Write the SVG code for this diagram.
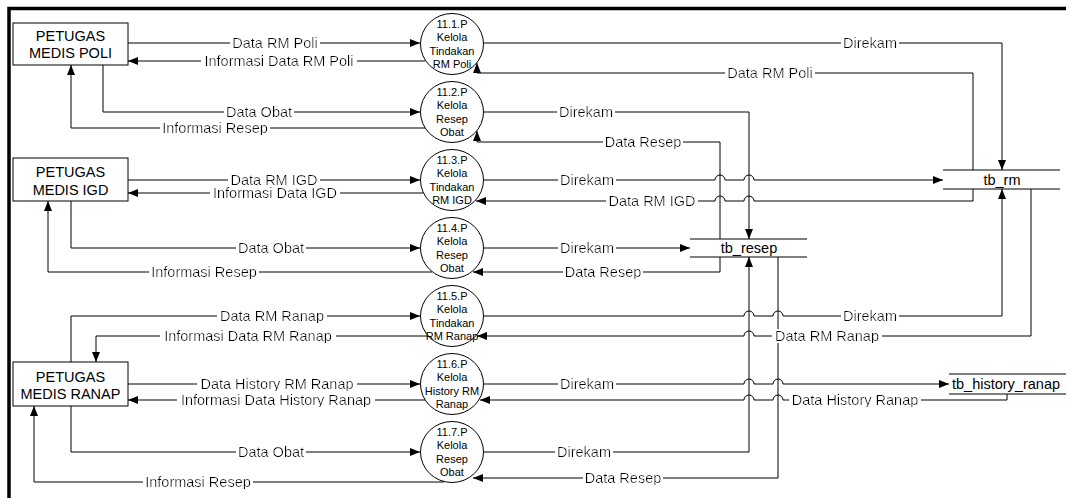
<svg xmlns="http://www.w3.org/2000/svg" width="1066" height="498" viewBox="0 0 1066 498">
<style>
text{font-family:"Liberation Sans",Arial,sans-serif;fill:#000}
.ent rect{fill:#fff;stroke:#000;stroke-width:1}
.ent text{font-size:14.5px;text-anchor:middle}
.proc ellipse{fill:#fff;stroke:#000;stroke-width:1}
.proc text{font-size:11px;text-anchor:middle}
.store line{stroke:#000;stroke-width:1}
.store text{font-size:14.5px;text-anchor:middle}
.flow path{fill:none;stroke:#000;stroke-width:1}
.flow path.a{marker-end:url(#ah)}
.lbl{font-size:14.5px;text-anchor:middle;filter:url(#bg)}
</style>
<defs>
<marker id="ah" markerUnits="userSpaceOnUse" viewBox="0 0 10 8" markerWidth="10" markerHeight="8" refX="10" refY="4" orient="auto">
<path d="M0,0 L10,4 L0,8 z" fill="#000"/>
</marker>
<filter id="bg" x="-0.02" y="0.12" width="1.04" height="0.76">
<feFlood flood-color="#fff" result="f"/>
<feComposite in="SourceGraphic" in2="f" operator="over"/>
</filter>
</defs>
<rect width="1066" height="498" fill="#fff"/>
<path d="M9,498 V8.5 H1066" fill="none" stroke="#000" stroke-width="3.5"/>

<g id="flows" class="flow">
<path class="a" d="M128,43 H420"/>
<path class="a" d="M425,61 H128"/>
<path class="a" d="M103,65 V112 H420"/>
<path class="a" d="M425,128 H71 V65"/>
<path class="a" d="M128,180 H420"/>
<path class="a" d="M423,193 H128"/>
<path class="a" d="M71,201 V248 H420"/>
<path class="a" d="M432,272 H48 V201"/>
<path class="a" d="M71,362 V316 H420"/>
<path class="a" d="M429,336 H96 V362"/>
<path class="a" d="M128,384 H420"/>
<path class="a" d="M425,400 H128"/>
<path class="a" d="M71,406 V452 H420"/>
<path class="a" d="M444,482 H34 V406"/>

<path class="a" d="M484,43 H1002 V170"/>
<path class="a" d="M973,170 V73 H477 V63"/>
<path class="a" d="M484,112 H749 V239"/>
<path class="a" d="M720,239 V142 H477 V131"/>
<path class="a" d="M484,180 H715 a5,5 0 0 1 10,0 H744 a5,5 0 0 1 10,0 H943"/>
<path class="a" d="M973,189 V201 H754 a5,5 0 0 0 -10,0 H725 a5,5 0 0 0 -10,0 H476"/>
<path class="a" d="M484,248 H690"/>
<path class="a" d="M720,257 V272 H473"/>
<path class="a" d="M484,316 H744 a5,5 0 0 1 10,0 H773 a5,5 0 0 1 10,0 H1002 V189"/>
<path class="a" d="M1031,189 V336 H783 a5,5 0 0 0 -10,0 H754 a5,5 0 0 0 -10,0 H477"/>
<path class="a" d="M484,384 H744 a5,5 0 0 1 10,0 H773 a5,5 0 0 1 10,0 H949"/>
<path class="a" d="M1007,394 V400 H783 a5,5 0 0 0 -10,0 H754 a5,5 0 0 0 -10,0 H480"/>
<path class="a" d="M484,452 H749 V257"/>
<path class="a" d="M778,257 V478 H473"/>

<text class="lbl" x="275" y="48">Data RM Poli</text>
<text class="lbl" x="279" y="66">Informasi Data RM Poli</text>
<text class="lbl" x="259" y="117">Data Obat</text>
<text class="lbl" x="215" y="133">Informasi Resep</text>
<text class="lbl" x="274" y="185">Data RM IGD</text>
<text class="lbl" x="275" y="198">Informasi Data IGD</text>
<text class="lbl" x="271" y="253">Data Obat</text>
<text class="lbl" x="204" y="277">Informasi Resep</text>
<text class="lbl" x="272" y="321">Data RM Ranap</text>
<text class="lbl" x="248" y="341">Informasi Data RM Ranap</text>
<text class="lbl" x="277" y="389">Data History RM Ranap</text>
<text class="lbl" x="276" y="405">Informasi Data History Ranap</text>
<text class="lbl" x="271" y="457">Data Obat</text>
<text class="lbl" x="198" y="487">Informasi Resep</text>

<text class="lbl" x="870" y="48">Direkam</text>
<text class="lbl" x="770" y="78">Data RM Poli</text>
<text class="lbl" x="586" y="117">Direkam</text>
<text class="lbl" x="643" y="147">Data Resep</text>
<text class="lbl" x="587" y="185">Direkam</text>
<text class="lbl" x="652" y="206">Data RM IGD</text>
<text class="lbl" x="587" y="253">Direkam</text>
<text class="lbl" x="603" y="277">Data Resep</text>
<text class="lbl" x="870" y="321">Direkam</text>
<text class="lbl" x="827" y="341">Data RM Ranap</text>
<text class="lbl" x="587" y="389">Direkam</text>
<text class="lbl" x="855" y="405">Data History Ranap</text>
<text class="lbl" x="584" y="457">Direkam</text>
<text class="lbl" x="623" y="483">Data Resep</text>
</g>

<g id="ent-poli" class="ent">
<rect x="13" y="23" width="115" height="42"/>
<text x="70.5" y="40.5">PETUGAS</text>
<text x="70.5" y="57.5">MEDIS POLI</text>
</g>
<g id="ent-igd" class="ent">
<rect x="13" y="158" width="115" height="43"/>
<text x="70.5" y="176.5">PETUGAS</text>
<text x="70.5" y="195">MEDIS IGD</text>
</g>
<g id="ent-ranap" class="ent">
<rect x="13" y="362" width="115" height="44"/>
<text x="70.5" y="381.5">PETUGAS</text>
<text x="70.5" y="399">MEDIS RANAP</text>
</g>

<g id="p11-1" class="proc">
<ellipse cx="452" cy="44" rx="31.5" ry="30.5"/>
<text x="452" y="27.5">11.1.P</text><text x="452" y="41">Kelola</text><text x="452" y="54.5">Tindakan</text><text x="452" y="68">RM Poli</text>
</g>
<g id="p11-2" class="proc">
<ellipse cx="452" cy="112" rx="31.5" ry="30.5"/>
<text x="452" y="95.5">11.2.P</text><text x="452" y="109">Kelola</text><text x="452" y="122.5">Resep</text><text x="452" y="136">Obat</text>
</g>
<g id="p11-3" class="proc">
<ellipse cx="452" cy="180" rx="31.5" ry="30.5"/>
<text x="452" y="163.5">11.3.P</text><text x="452" y="177">Kelola</text><text x="452" y="190.5">Tindakan</text><text x="452" y="204">RM IGD</text>
</g>
<g id="p11-4" class="proc">
<ellipse cx="452" cy="248" rx="31.5" ry="30.5"/>
<text x="452" y="231.5">11.4.P</text><text x="452" y="245">Kelola</text><text x="452" y="258.5">Resep</text><text x="452" y="272">Obat</text>
</g>
<g id="p11-5" class="proc">
<ellipse cx="452" cy="316" rx="31.5" ry="30.5"/>
<text x="452" y="299.5">11.5.P</text><text x="452" y="313">Kelola</text><text x="452" y="326.5">Tindakan</text><text x="452" y="340">RM Ranap</text>
</g>
<g id="p11-6" class="proc">
<ellipse cx="452" cy="384" rx="31.5" ry="30.5"/>
<text x="452" y="367.5">11.6.P</text><text x="452" y="381">Kelola</text><text x="452" y="394.5">History RM</text><text x="452" y="408">Ranap</text>
</g>
<g id="p11-7" class="proc">
<ellipse cx="452" cy="452" rx="31.5" ry="30.5"/>
<text x="452" y="435.5">11.7.P</text><text x="452" y="449">Kelola</text><text x="452" y="462.5">Resep</text><text x="452" y="476">Obat</text>
</g>

<g id="tb_rm" class="store">
<line x1="943" y1="170" x2="1060" y2="170"/>
<line x1="943" y1="189" x2="1060" y2="189"/>
<text x="1002" y="185">tb_rm</text>
</g>
<g id="tb_resep" class="store">
<line x1="690" y1="239" x2="807" y2="239"/>
<line x1="690" y1="257" x2="807" y2="257"/>
<text x="749" y="253">tb_resep</text>
</g>
<g id="tb_history_ranap" class="store">
<line x1="949" y1="374" x2="1066" y2="374"/>
<line x1="949" y1="394" x2="1066" y2="394"/>
<text x="952" y="389" style="text-anchor:start">tb_history_ranap</text>
</g>
</svg>
